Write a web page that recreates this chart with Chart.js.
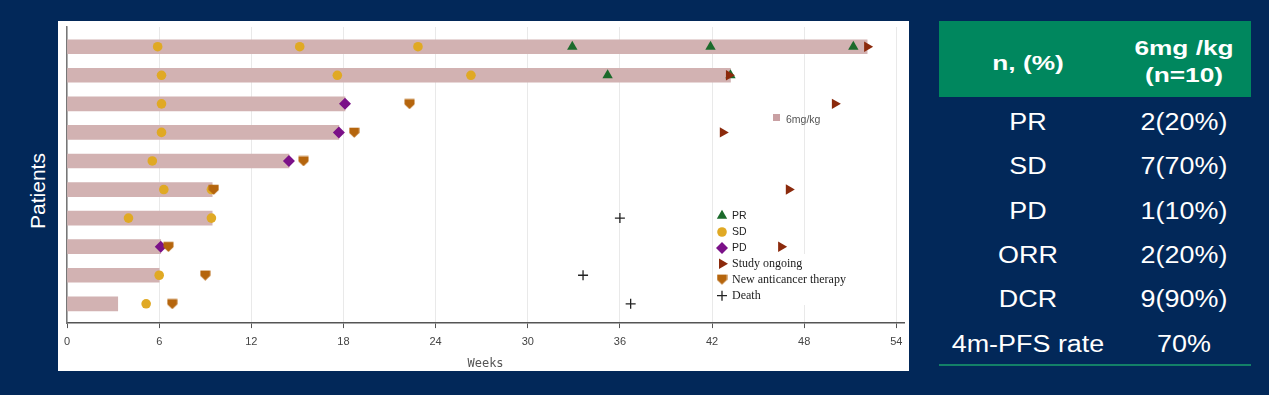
<!DOCTYPE html>
<html>
<head>
<meta charset="utf-8">
<script src="https://cdn.jsdelivr.net/npm/chart.js@4.4.0/dist/chart.umd.min.js"></script>
<style>
  body { margin:0; width:1269px; height:395px; background:#022859; overflow:hidden; position:relative;
         font-family:"Liberation Sans", Arial, sans-serif; }
  #panel { position:absolute; left:58px; top:21px; width:851px; height:350px; background:#fff; }
  #ylab { position:absolute; left:37px; top:191px; color:#fff; font-size:21px; line-height:21px;
          transform:translate(-50%,-50%) rotate(-90deg); white-space:nowrap; }
  #thead { position:absolute; left:939px; top:21px; width:312px; height:76px; background:#00875e; }
  #rule { position:absolute; left:939px; top:364px; width:312px; height:2px; background:#138067; }
  .cell { position:absolute; color:#fff; white-space:nowrap; font-size:23px; line-height:23px;
          transform:translate(-50%,-50%) scaleX(1.17); }
  .hd { font-weight:bold; font-size:21px; line-height:21px; transform:translate(-50%,-50%) scaleX(1.25); }
</style>
</head>
<body>
<div id="panel"><canvas id="chart" width="851" height="350"></canvas></div>
<div id="ylab">Patients</div>
<div id="thead"></div>
<div id="rule"></div>
<script>
// patients listed top to bottom
const patients = [1, 2, 3, 4, 5, 6, 7, 8, 9, 10];
const durationWeeks = [52.1, 43.2, 18.1, 17.7, 14.45, 9.45, 9.45, 6.1, 6.0, 3.3];

// [patient, week]
const prPoints = [[1, 32.9], [1, 41.9], [1, 51.2], [2, 35.2], [2, 43.2]];
const sdPoints = [[1, 5.9], [1, 15.15], [1, 22.85], [2, 6.15], [2, 17.6], [2, 26.3], [3, 6.15], [4, 6.15],
                  [5, 5.55], [6, 6.3], [6, 9.4], [7, 4.0], [7, 9.4], [9, 6.0], [10, 5.15]];
const pdPoints = [[3, 18.1], [4, 17.7], [5, 14.45], [8, 6.1]];
const ongoingPoints = [[1, 52.1], [2, 43.1], [3, 50.0], [4, 42.7], [6, 47.0], [8, 46.5]];
const therapyPoints = [[3, 22.3], [4, 18.7], [5, 15.4], [6, 9.55], [8, 6.6], [9, 9.0], [10, 6.85]];
const deathPoints = [[7, 36.0], [9, 33.6], [10, 36.7]];

const weekMax = 54.5;
const weekStep = 6;

// table on the right
const tableHead = ['n, (%)', '6mg /kg', '(n=10)'];
const tableRows = ['PR', 'SD', 'PD', 'ORR', 'DCR', '4m-PFS rate'];
const tableValues = ['2(20%)', '7(70%)', '1(10%)', '2(20%)', '9(90%)', '70%'];

function addCell(text, x, y, cls) {
	var d = document.createElement('div');
	d.className = cls;
	d.style.left = x + 'px';
	d.style.top = y + 'px';
	d.textContent = text;
	document.body.appendChild(d);
}
addCell(tableHead[0], 1028, 62, 'cell hd');
addCell(tableHead[1], 1184, 47, 'cell hd');
addCell(tableHead[2], 1184, 74, 'cell hd');
tableRows.forEach((r, i) => {
	addCell(r, 1028, 122 + i * 44.3, 'cell');
	addCell(tableValues[i], 1184, 122 + i * 44.3, 'cell');
});

function shield(color) {
	var c = document.createElement('canvas');
	c.width = 11; c.height = 11;
	var g = c.getContext('2d');
	g.fillStyle = color;
	g.beginPath();
	g.moveTo(0.5, 0.8); g.lineTo(10.5, 0.8); g.lineTo(10.5, 6); g.lineTo(5.5, 10.8); g.lineTo(0.5, 6);
	g.closePath();
	g.fill();
	return c;
}

function pts(list) {
	return list.map(p => ({x: p[1], y: p[0]}));
}

function markerSet(label, list, style, color, radius, order, rotation) {
	return {
		type: 'scatter',
		label: label,
		data: pts(list),
		pointStyle: style,
		pointRotation: rotation || 0,
		pointRadius: radius,
		pointHoverRadius: radius,
		backgroundColor: color,
		borderColor: color,
		pointBorderWidth: style === 'cross' ? 1.3 : 0,
		order: order
	};
}

const markers = [
	markerSet('PR', prPoints, 'triangle', '#1b6a2b', 6, 5),
	markerSet('SD', sdPoints, 'circle', '#e0a924', 4.8, 6),
	markerSet('PD', pdPoints, 'rectRot', '#7b1188', 6, 4),
	markerSet('Study ongoing', ongoingPoints, 'triangle', '#8b2a0c', 6, 2, 90),
	markerSet('New anticancer therapy', therapyPoints, shield('#b5650d'), '#b5650d', 5.5, 3),
	markerSet('Death', deathPoints, 'cross', '#222222', 5, 1)
];

const legendPlugin = {
	id: 'manualLegend',
	afterDraw(chart) {
		var ctx = chart.ctx;
		ctx.save();
		// dose legend
		ctx.fillStyle = '#c9a0a3';
		ctx.fillRect(715, 93, 7, 7);
		ctx.fillStyle = '#555';
		ctx.font = '10.5px "Liberation Sans"';
		ctx.textBaseline = 'middle';
		ctx.fillText(chart.data.datasets[0].label, 728, 99);

		// response legend
		ctx.fillStyle = '#fff';
		ctx.fillRect(670, 233, 124, 51);
		var rows = [194.7, 211, 227, 242.7, 258.3, 274.7];
		markers.forEach((m, i) => {
			ctx.fillStyle = m.backgroundColor;
			ctx.strokeStyle = m.borderColor;
			ctx.lineWidth = 1.3;
			Chart.helpers.drawPoint(ctx, {
				pointStyle: m.pointStyle, rotation: m.pointRotation,
				radius: m.pointRadius, borderWidth: m.pointBorderWidth
			}, 664, rows[i]);
			ctx.fillStyle = '#222';
			ctx.font = i < 3 ? '10.5px "Liberation Sans"' : '12px "Liberation Serif"';
			ctx.fillText(m.label, 674, rows[i] + 0.5);
		});
		ctx.restore();
	}
};

new Chart(document.getElementById('chart').getContext('2d'), {
	type: 'bar',
	data: {
		datasets: [{
			type: 'bar',
			label: '6mg/kg',
			indexAxis: 'y',
			data: patients.map((p, i) => ({x: durationWeeks[i], y: p})),
			backgroundColor: '#d2b2b2',
			borderWidth: 0,
			barThickness: 14,
			order: 10
		}].concat(markers)
	},
	options: {
		responsive: false,
		animation: false,
		layout: {autoPadding: false, padding: {left: 8, top: 6, right: 5, bottom: 0}},
		plugins: {legend: {display: false}, tooltip: {enabled: false}},
		scales: {
			x: {
				type: 'linear', position: 'bottom', min: 0, max: weekMax, offset: false,
				ticks: {stepSize: weekStep, includeBounds: false, color: '#444', padding: 6, maxRotation: 0,
					font: {size: 11, family: 'Liberation Sans', lineHeight: 1.5}},
				grid: {color: '#e9e9e9', tickColor: '#555', tickLength: 5, offset: false},
				border: {color: '#555', width: 1.5},
				title: {display: true, text: 'Weeks', color: '#555',
					font: {family: 'DejaVu Sans Mono', size: 12}, padding: {top: 0, bottom: 0}}
			},
			y: {
				type: 'linear', min: 0.31, max: 10.675, reverse: true, offset: false,
				ticks: {display: false},
				grid: {display: false, drawTicks: false, offset: false},
				border: {color: '#777', width: 1.5}
			}
		}
	},
	plugins: [legendPlugin]
});
</script>
</body>
</html>
